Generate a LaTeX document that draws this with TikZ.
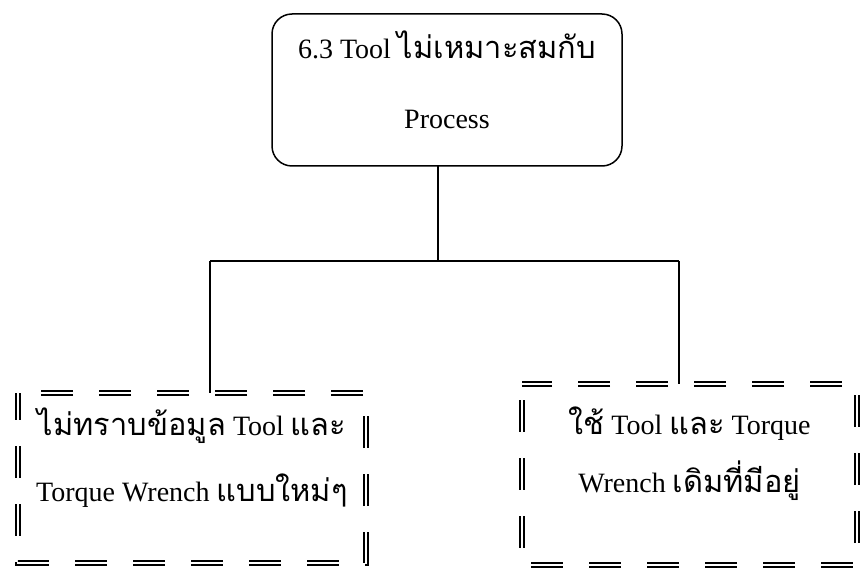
\documentclass[tikz,border=0pt]{standalone}
\usepackage{fontspec}
\setmainfont{Liberation Serif}
\newfontfamily\thaifont[Script=Thai,Scale=1.1]{Loma}
\newcommand{\thtxt}[1]{{\thaifont #1}}

\begin{document}
\begin{tikzpicture}[x=1pt,y=-1pt,
  every node/.style={inner sep=0pt, outer sep=0pt},
  headbox/.style={draw, line width=1.5pt, rounded corners=20pt,
    minimum width=350pt, minimum height=152pt, align=center,
    text depth=20pt, font=\fontsize{28}{70}\selectfont},
  framebox/.style={minimum width=#1},
  causetext/.style={align=center},
  link/.style={line width=1.3pt},
  dblframe/.style={line width=1.6pt, double, double distance=2.2pt,
    dash pattern=on 32pt off 26pt}
]
\useasboundingbox (0,0) rectangle (863,572);

% head of the branch
\node[headbox] (top) at (447,90) {6.3 Tool \thtxt{ไม่เหมาะสมกับ}\\Process};

% two cause boxes
\node[framebox=348pt, minimum height=170pt] (left) at (192,478) {};
\node[causetext, font=\fontsize{28}{66}\selectfont] (lefttext) at (192,458)
  {\thtxt{ไม่ทราบข้อมูล} Tool \thtxt{และ}\\Torque Wrench \thtxt{แบบใหม่ๆ}};
\draw[dblframe, dash phase=5pt] (left.north west) -- (left.south west)
  -- (left.south east) -- (left.north east) -- cycle;

\node[framebox=335pt, minimum height=181pt] (right) at (689.5,474.5) {};
\node[causetext, font=\fontsize{28}{58}\selectfont] (righttext) at (689.5,454)
  {\thtxt{ใช้} Tool \thtxt{และ} Torque\\Wrench \thtxt{เดิมที่มีอยู่}};
\draw[dblframe, dash phase=42pt] (right.north west) -- (right.south west)
  -- (right.south east) -- (right.north east) -- cycle;

% connectors
\coordinate (junction) at (438,261);
\coordinate (lbend) at (210,261);
\coordinate (rbend) at (679,261);
\draw[link] (top.south -| junction) -- (junction);
\draw[link] (lbend) -- (rbend);
\draw[link] (lbend) -- (lbend |- left.north);
\draw[link] (rbend) -- (rbend |- right.north);
\end{tikzpicture}
\end{document}
